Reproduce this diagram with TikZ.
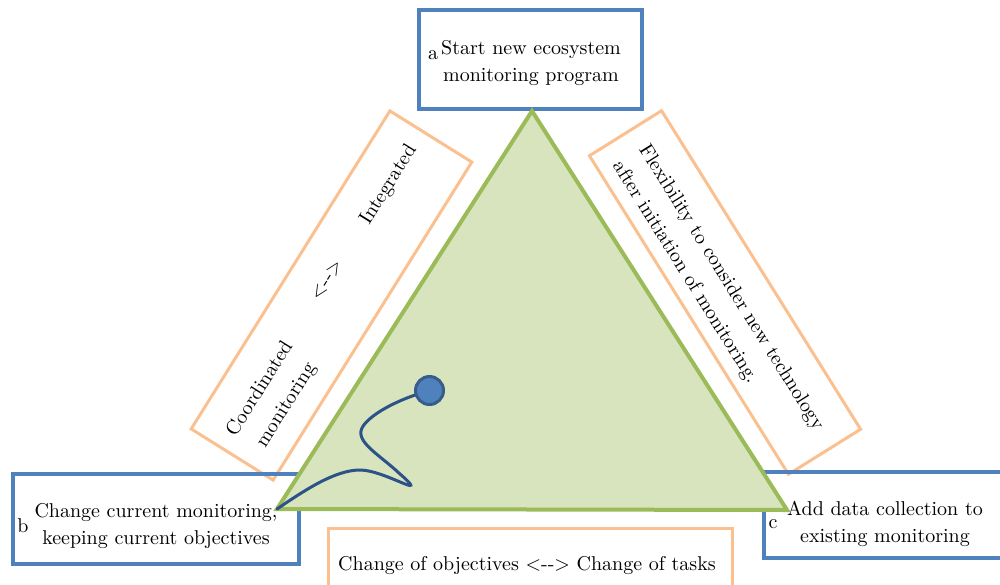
\documentclass[tikz,border=0pt]{standalone}
\usepackage{tikz}
\definecolor{boxblue}{HTML}{4F81BD}
\definecolor{boxorange}{HTML}{FAC090}
\definecolor{trifill}{HTML}{D7E4BD}
\definecolor{triline}{HTML}{9BBB59}
\definecolor{curveblue}{HTML}{2C5287}
\definecolor{dotline}{HTML}{385D8A}
\begin{document}
\begin{tikzpicture}[x=0.5pt,y=-0.5pt,font=\fontsize{10}{13.5}\selectfont,
bluebox/.style={draw=boxblue,line width=2pt,inner sep=0pt},
orangebox/.style={draw=boxorange,line width=1.5pt,inner sep=0pt},
boxtext/.style={align=center,inner sep=0pt},
sidetext/.style={inner sep=0pt,font=\fontsize{10}{15.5}\selectfont},
letter/.style={anchor=base,inner sep=0pt}]
\useasboundingbox(0,0)rectangle(1000,584);
\clip(0,0)rectangle(1000,584);
\begin{scope}[shift={(331.5,295.5)},rotate=58,transform shape]
\node[orangebox,minimum width=187.5pt,minimum height=48.3pt](linkbox)at(0,0){};
\node[sidetext,align=center](coordtext)at(-117,4.5){Coordinated\\monitoring};
\node[sidetext](linkarrow)at(10.6,-12){<-{}->};
\node[sidetext](integtext)at(124,-10){Integrated};
\end{scope}
\begin{scope}[shift={(725,292.5)},rotate=-58,transform shape]
\node[orangebox,minimum width=187.8pt,minimum height=42.5pt](techbox)at(0,0){};
\node[sidetext,align=left](techtext)at(-1,8){Flexibility to consider new technology\\after initiation of monitoring.};
\end{scope}
\node[bluebox,minimum width=111.5pt,minimum height=49.5pt](boxa)at(530.5,59.5){};
\node[boxtext](texta)at(531,63.5){Start new ecosystem\\monitoring program};
\node[letter](leta)at(433,59){a};
\node[bluebox,minimum width=143pt,minimum height=45pt](boxb)at(156,519){};
\node[boxtext](textb)at(156,526){Change current monitoring,\\keeping current objectives};
\node[letter](letb)at(23,532){b};
\node[bluebox,minimum width=123pt,minimum height=43pt](boxc)at(887,515){};
\node[boxtext](textc)at(885,524){Add data collection to\\existing monitoring};
\node[letter](letc)at(773,528){c};
\node[orangebox,minimum width=202pt,minimum height=36pt](changebox)at(530,564){};
\node[letter](changetext)at(527,570){Change of objectives <-{}-> Change of tasks};
\coordinate(apex)at(532,111);
\coordinate(cornerb)at(277,509);
\coordinate(cornerc)at(787,510);
\coordinate(dotc)at(429.5,390.5);
\draw[fill=trifill,draw=triline,line width=2pt](apex)--(cornerb)--(cornerc)--cycle;
\draw[curveblue,line width=1.5pt,line cap=round](cornerb)..controls(305,490)and(335,470)..(360,470)
..controls(385,470)and(432,502)..(400,474)..controls(380,455)and(355,442)..(362,428)
..controls(368,416)and(395,400)..(dotc);
\node[circle,draw=dotline,fill=boxblue,line width=1.5pt,minimum size=14pt,inner sep=0pt](dot)at(dotc){};
\end{tikzpicture}
\end{document}
